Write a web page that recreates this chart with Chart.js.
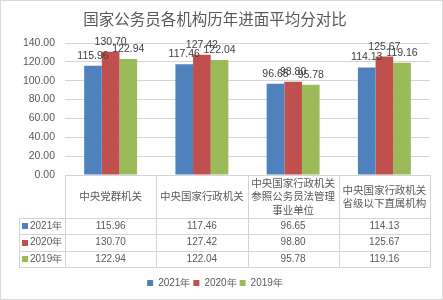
<!DOCTYPE html>
<html>
<head>
<meta charset="utf-8">
<script src="https://cdn.jsdelivr.net/npm/chart.js@4"></script>
<style>
  html, body { margin: 0; padding: 0; background: #fff; }
  #wrap { width: 443px; height: 300px; }
</style>
</head>
<body>
<div id="wrap"><canvas id="barChart" width="443" height="300"></canvas></div>
<script>
// chart data
const categories = [
  ["中央党群机关"],
  ["中央国家行政机关"],
  ["中央国家行政机关", "参照公务员法管理", "事业单位"],
  ["中央国家行政机关", "省级以下直属机构"]
];
const seriesNames = ["2021年", "2020年", "2019年"];
const values2021 = [115.96, 117.46, 96.65, 114.13];
const values2020 = [130.70, 127.42, 98.80, 125.67];
const values2019 = [122.94, 122.04, 95.78, 119.16];
const yMax = 140;
const yStep = 20;

const colors = ["#4f81bd", "#c0504d", "#9bbb59"];
const allValues = [values2021, values2020, values2019];
const textColor = "#595959";
const lineColor = "#d4d4d4";
const cjk = "'Noto Sans CJK SC', sans-serif";
const latin = "'Liberation Sans', Arial, sans-serif";

// white background + outer frame
const frame = {
  id: "frame",
  beforeDraw(chart) {
    const ctx = chart.ctx;
    ctx.save();
    ctx.fillStyle = "#fff";
    ctx.fillRect(0, 0, chart.width, chart.height);
    ctx.strokeStyle = "#d9d9d9";
    ctx.lineWidth = 1;
    ctx.strokeRect(0.5, 0.5, chart.width - 1, chart.height - 1);
    ctx.restore();
  }
};

// value labels above bars
const barLabels = {
  id: "barLabels",
  afterDatasetsDraw(chart) {
    const ctx = chart.ctx;
    ctx.save();
    ctx.font = "10.5px " + latin;
    ctx.fillStyle = "#404040";
    ctx.textAlign = "center";
    ctx.textBaseline = "alphabetic";
    chart.data.datasets.forEach((ds, di) => {
      chart.getDatasetMeta(di).data.forEach((bar, i) => {
        ctx.fillText(ds.data[i].toFixed(2), bar.x, bar.y - 7);
      });
    });
    ctx.restore();
  }
};

// data table under the plot, like Excel's
const dataTable = {
  id: "dataTable",
  afterDraw(chart) {
    const ctx = chart.ctx;
    const x = chart.scales.x;
    const area = chart.chartArea;
    const colW = (x.right - x.left) / categories.length;
    const top = area.bottom;
    const headH = 43;
    const rowH = 16.4;
    const tableLeft = 19;
    const rowsTop = top + headH;
    const bottom = rowsTop + rowH * seriesNames.length;

    ctx.save();
    ctx.strokeStyle = lineColor;
    ctx.lineWidth = 1;
    ctx.beginPath();
    ctx.moveTo(x.left, Math.round(top) + 0.5);
    ctx.lineTo(x.right, Math.round(top) + 0.5);
    for (let r = 0; r <= seriesNames.length; r++) {
      const y = Math.round(rowsTop + r * rowH) + 0.5;
      ctx.moveTo(tableLeft, y);
      ctx.lineTo(x.right, y);
    }
    for (let c = 0; c <= categories.length; c++) {
      const xx = Math.round(x.left + c * colW) + 0.5;
      ctx.moveTo(xx, top);
      ctx.lineTo(xx, Math.round(bottom) + 0.5);
    }
    ctx.moveTo(tableLeft + 0.5, Math.round(rowsTop) + 0.5);
    ctx.lineTo(tableLeft + 0.5, Math.round(bottom) + 0.5);
    ctx.stroke();

    // header: category names
    ctx.fillStyle = textColor;
    ctx.textAlign = "center";
    ctx.textBaseline = "middle";
    ctx.font = "10.5px " + cjk;
    const lh = 13.5;
    categories.forEach((lines, i) => {
      const cx = x.getPixelForValue(i);
      const y0 = top + headH / 2 - (lines.length - 1) * lh / 2;
      lines.forEach((t, k) => ctx.fillText(t, cx, y0 + k * lh));
    });

    // rows: legend key + values
    seriesNames.forEach((name, r) => {
      const cy = rowsTop + r * rowH + rowH / 2;
      ctx.fillStyle = colors[r];
      ctx.fillRect(22, Math.round(cy - 3), 6, 6);
      ctx.fillStyle = textColor;
      ctx.textAlign = "left";
      ctx.font = "10px " + latin;
      ctx.fillText(name, 30, cy);
      ctx.textAlign = "center";
      allValues[r].forEach((v, i) => {
        ctx.fillText(v.toFixed(2), x.getPixelForValue(i), cy);
      });
    });
    ctx.restore();
  }
};

new Chart(document.getElementById("barChart").getContext("2d"), {
  type: "bar",
  data: {
    labels: categories,
    datasets: seriesNames.map((name, i) => ({
      label: name,
      data: allValues[i],
      backgroundColor: colors[i],
      barPercentage: 1,
      categoryPercentage: 0.58
    }))
  },
  options: {
    responsive: false,
    animation: false,
    layout: { padding: { top: 0, left: 0, right: 13, bottom: 2 } },
    plugins: {
      title: {
        display: true,
        text: "国家公务员各机构历年进面平均分对比",
        color: textColor,
        font: { family: cjk, size: 15.5, weight: "normal" },
        padding: { top: 10, bottom: 14.4 }
      },
      legend: {
        position: "bottom",
        labels: {
          color: textColor,
          font: { family: latin, size: 10 },
          boxWidth: 6,
          boxHeight: 6,
          padding: 3
        }
      },
      tooltip: { enabled: false }
    },
    scales: {
      x: {
        ticks: { display: false },
        grid: { display: false },
        border: { display: false },
        afterFit(scale) { scale.height = 100; }
      },
      y: {
        min: 0,
        max: yMax,
        ticks: {
          stepSize: yStep,
          padding: 10,
          color: textColor,
          font: { family: latin, size: 10.5 },
          callback: v => v.toFixed(2)
        },
        grid: { color: lineColor, drawTicks: false },
        border: { display: false },
        afterFit(scale) { scale.width = 65; }
      }
    }
  },
  plugins: [frame, barLabels, dataTable]
});
</script>
</body>
</html>
